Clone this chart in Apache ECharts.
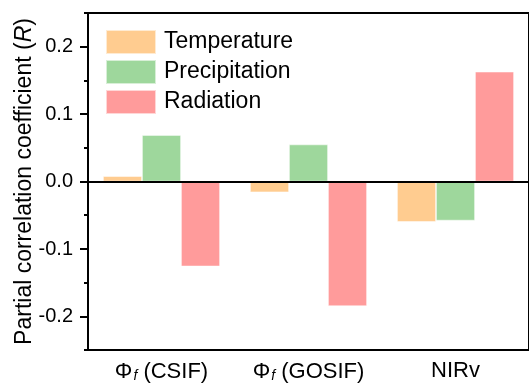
<!DOCTYPE html>
<html><head><meta charset="utf-8">
<script src="https://cdn.jsdelivr.net/npm/echarts@6/dist/echarts.min.js"></script>
<style>html,body{margin:0;padding:0;background:#fff}#c{width:529px;height:387px}</style>
</head><body><div id="c"></div>
<script>
const categories = ['{p|Φ}{s|f}{p| (CSIF)}', '{p|Φ}{s|f}{p| (GOSIF)}', '{p|NIRv}'];
const seriesNames = ['Temperature', 'Precipitation', 'Radiation'];
const temperature = [0.008, -0.016, -0.060];
const precipitation = [0.069, 0.055, -0.058];
const radiation = [-0.126, -0.185, 0.163];
const yTickLabels = ['-0.2', '-0.1', '0.0', '0.1', '0.2'];
const colors = ['#FFCC90', '#9ED79C', '#FF9B9B'];

const font = 'Liberation Sans, Arial, sans-serif';
const chart = echarts.init(document.getElementById('c'));
const mk = (name, data, i) => ({
  name, type: 'bar', data, xAxisIndex: 0, yAxisIndex: 0,
  barWidth: 39, barGap: '0%',
  itemStyle: { color: colors[i], borderColor: 'rgba(255,255,255,0.6)', borderWidth: 0.8 },
  z: 2
});
const s = [mk(seriesNames[0], temperature, 0), mk(seriesNames[1], precipitation, 1), mk(seriesNames[2], radiation, 2)];
s[0].markLine = { silent: true, symbol: 'none', label: { show: false },
  lineStyle: { color: '#000', width: 2, type: 'solid' }, data: [{ yAxis: 0 }], z: 5 };
chart.setOption({
  animation: false,
  textStyle: { fontFamily: font },
  grid: [
    { left: 88, right: -2, top: 13, bottom: 37, show: true, borderColor: '#000', borderWidth: 2 },
    { left: 88, right: -2, top: 46.5, bottom: 70.5 }
  ],
  legend: {
    orient: 'vertical', left: 105, top: 29, padding: 0, itemWidth: 50, itemHeight: 24, itemGap: 4,
    icon: 'rect', data: seriesNames,
    textStyle: { fontSize: 23, color: '#000', fontFamily: font, padding: [0, 0, 0, 3] }
  },
  xAxis: [
    { type: 'category', gridIndex: 0, data: categories, position: 'bottom',
      axisLine: { onZero: false, lineStyle: { color: '#000', width: 2 } },
      axisTick: { alignWithLabel: true, length: 7, lineStyle: { color: '#000', width: 2 } },
      axisLabel: { interval: 0, margin: 10, color: '#000', fontSize: 22,
        rich: { p: { fontSize: 22, fontFamily: font, color: '#000' },
                s: { fontSize: 14, fontStyle: 'italic', fontFamily: font, color: '#000', padding: [9, 0, 0, 1] } } } },
    { type: 'category', gridIndex: 1, data: categories, show: false }
  ],
  yAxis: [
    { type: 'value', gridIndex: 0, min: -0.25, max: 0.25, interval: 0.05,
      splitLine: { show: false },
      axisLine: { show: true, lineStyle: { color: '#000', width: 2 } },
      axisTick: { show: true, length: 4, lineStyle: { color: '#000', width: 2 } },
      axisLabel: { show: false },
      name: 'Partial correlation coefficient ({i|R})', nameLocation: 'middle', nameGap: 52,
      nameTextStyle: { fontSize: 23, color: '#000', fontFamily: font,
        rich: { i: { fontSize: 23, fontStyle: 'italic', fontFamily: font, color: '#000' } } } },
    { type: 'value', gridIndex: 1, min: -0.2, max: 0.2, interval: 0.1,
      splitLine: { show: false },
      axisLine: { show: false },
      axisTick: { show: true, length: 8, lineStyle: { color: '#000', width: 2 } },
      axisLabel: { margin: 15, color: '#000', fontSize: 20,
        formatter: v => yTickLabels[Math.round((v + 0.2) / 0.1)] } }
  ],
  series: s
});
</script></body></html>
